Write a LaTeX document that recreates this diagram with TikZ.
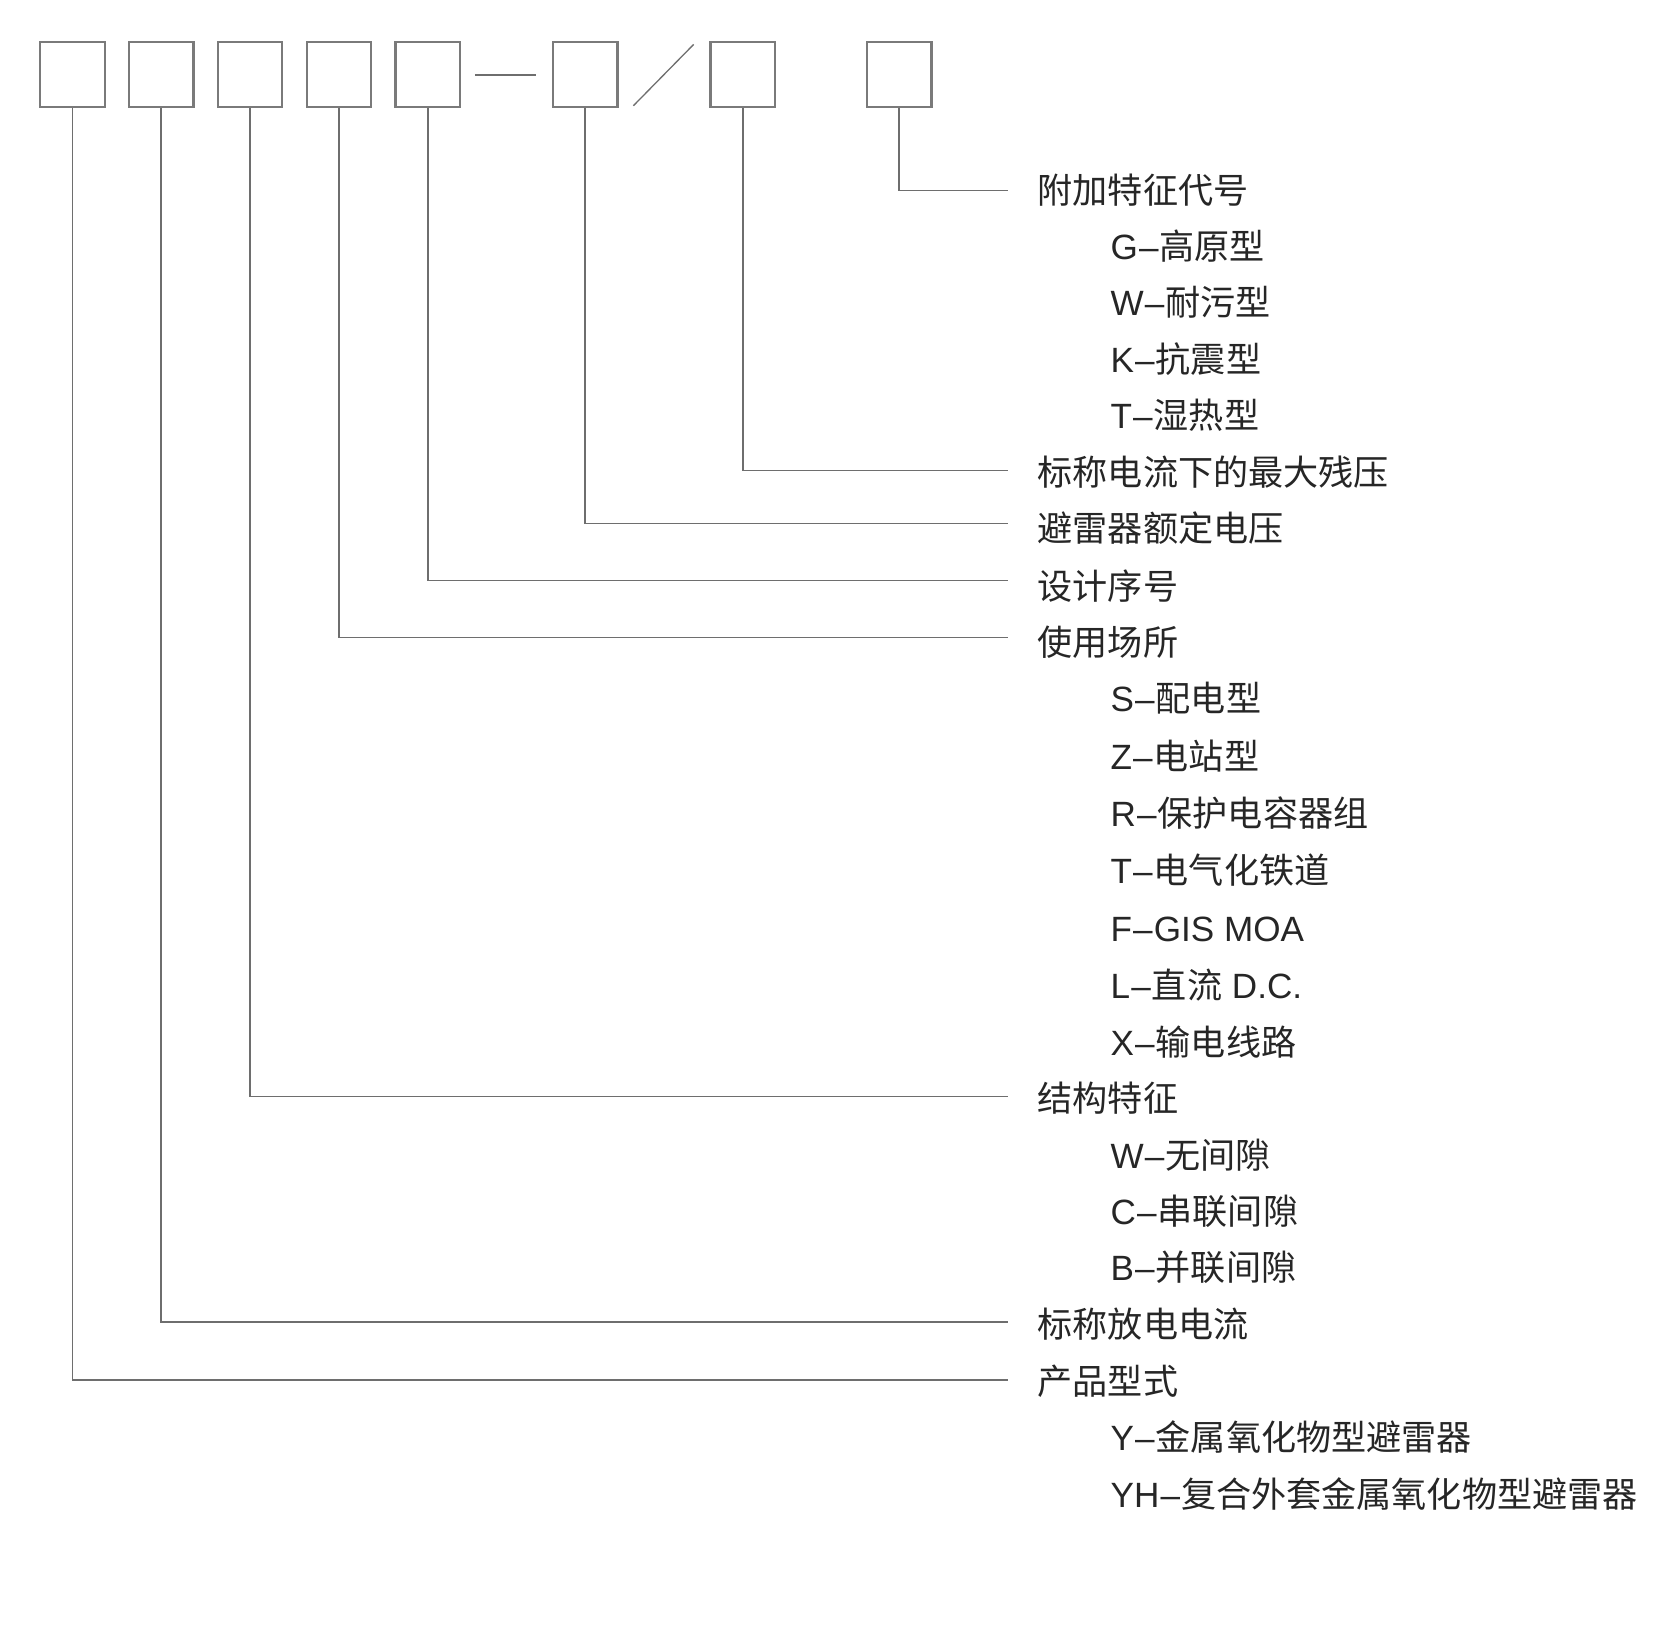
\documentclass[tikz,border=0pt]{standalone}
\usepackage{fontspec}
\setmainfont{Noto Sans CJK SC}
\newfontfamily\lat{Liberation Sans}
\definecolor{boxgray}{HTML}{7A7A7A}
\definecolor{linegray}{HTML}{6E6E6E}
\definecolor{txt}{HTML}{262626}
\newcommand{\dsh}{\kern0.6pt–\kern0.6pt}
\begin{document}
\begin{tikzpicture}[x=0.02cm,y=-0.02cm,
  codebox/.style={draw=boxgray,line width=1.2pt,minimum width=1.22cm,minimum height=1.22cm,inner sep=0pt},
  conn/.style={draw=linegray,line width=0.9pt},
  lbl/.style={anchor=base west,inner sep=0pt,text=txt,font=\fontsize{18.9pt}{22pt}\selectfont}]
\useasboundingbox (0,0) rectangle (1568,1552);
% code boxes
\node[codebox] (b1) at (68.5,70.5) {};
\node[codebox] (b2) at (152.5,70.5) {};
\node[codebox] (b3) at (236.5,70.5) {};
\node[codebox] (b4) at (320.5,70.5) {};
\node[codebox] (b5) at (404.5,70.5) {};
\node[codebox] (b6) at (553.5,70.5) {};
\node[codebox] (b7) at (702.5,70.5) {};
\node[codebox] (b8) at (850.5,70.5) {};
% separators
\coordinate (d1) at (449,71);
\coordinate (d2) at (507,71);
\draw[conn,line width=1.2pt] (d1) -- (d2);
\coordinate (s1) at (599,100);
\coordinate (s2) at (656,42);
\draw[conn,line width=0.7pt] (s1) -- (s2);
% connector ends
\coordinate (e8) at (953,180);
\coordinate (e7) at (953,445);
\coordinate (e6) at (953,495);
\coordinate (e5) at (953,549);
\coordinate (e4) at (953,603);
\coordinate (e3) at (953,1037);
\coordinate (e2) at (953,1250);
\coordinate (e1) at (953,1305);
\draw[conn] (b8.south) |- (e8);
\draw[conn] (b7.south) |- (e7);
\draw[conn] (b6.south) |- (e6);
\draw[conn] (b5.south) |- (e5);
\draw[conn] (b4.south) |- (e4);
\draw[conn] (b3.south) |- (e3);
\draw[conn] (b2.south) |- (e2);
\draw[conn] (b1.south) |- (e1);
% labels (base = centre + 12)
\node[lbl] (t8) at (981,192) {附加特征代号};
\node[lbl] (t8a) at (1050,245) {{\lat G\dsh}高原型};
\node[lbl] (t8b) at (1050,298) {{\lat W\dsh}耐污型};
\node[lbl] (t8c) at (1050,352) {{\lat K\dsh}抗震型};
\node[lbl] (t8d) at (1050,405) {{\lat T\dsh}湿热型};
\node[lbl] (t7) at (981,459) {标称电流下的最大残压};
\node[lbl] (t6) at (981,512) {避雷器额定电压};
\node[lbl] (t5) at (981,567) {设计序号};
\node[lbl] (t4) at (981,620) {使用场所};
\node[lbl] (t4a) at (1050,673) {{\lat S\dsh}配电型};
\node[lbl] (t4b) at (1050,728) {{\lat Z\dsh}电站型};
\node[lbl] (t4c) at (1050,782) {{\lat R\dsh}保护电容器组};
\node[lbl] (t4d) at (1050,836) {{\lat T\dsh}电气化铁道};
\node[lbl] (t4e) at (1050,890) {{\lat F\dsh GIS MOA}};
\node[lbl] (t4f) at (1050,944) {{\lat L\dsh}直流{\lat\ D.C.}};
\node[lbl] (t4g) at (1050,998) {{\lat X\dsh}输电线路};
\node[lbl] (t3) at (981,1051) {结构特征};
\node[lbl] (t3a) at (1050,1105) {{\lat W\dsh}无间隙};
\node[lbl] (t3b) at (1050,1158) {{\lat C\dsh}串联间隙};
\node[lbl] (t3c) at (1050,1211) {{\lat B\dsh}并联间隙};
\node[lbl] (t2) at (981,1265) {标称放电电流};
\node[lbl] (t1) at (981,1319) {产品型式};
\node[lbl] (t1a) at (1050,1372) {{\lat Y\dsh}金属氧化物型避雷器};
\node[lbl] (t1b) at (1050,1426) {{\lat YH\dsh}复合外套金属氧化物型避雷器};
\end{tikzpicture}
\end{document}
